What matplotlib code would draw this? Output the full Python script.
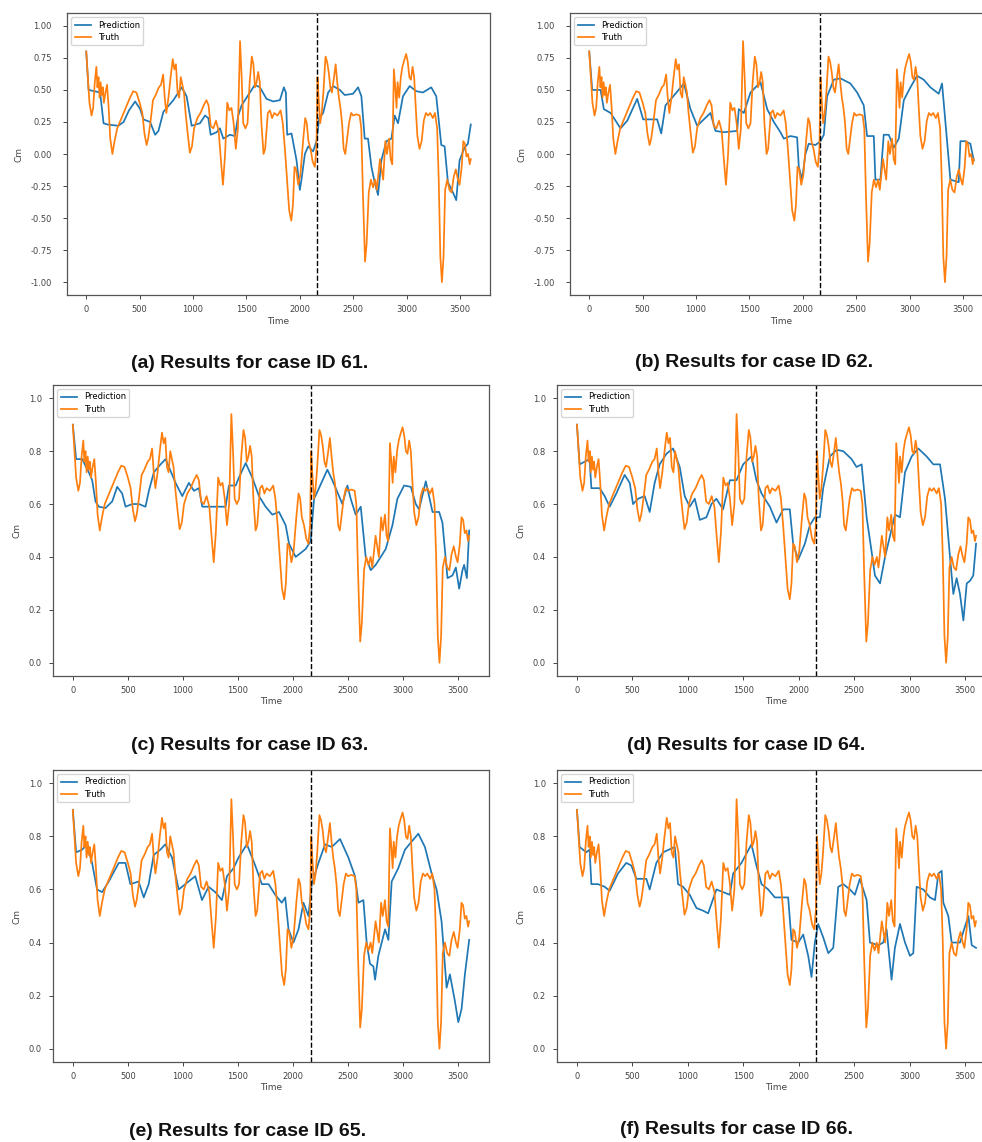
import matplotlib
matplotlib.use("Agg")
import matplotlib.pyplot as plt

# time knots for the ground truth curve
t_truth = [0, 15, 30, 50, 65, 80, 95, 105, 115, 125,
           135, 145, 155, 165, 180, 195, 210, 225, 245, 265,
           290, 320, 350, 380, 410, 440, 470, 500, 525, 545,
           565, 580, 600, 625, 650, 680, 700, 720, 735, 750,
           770, 790, 810, 825, 840, 855, 870, 885, 900, 915,
           930, 950, 970, 990, 1010, 1040, 1070, 1100, 1125, 1145,
           1165, 1190, 1215, 1240, 1260, 1280, 1300, 1320, 1340, 1360,
           1380, 1400, 1420, 1440, 1455, 1470, 1490, 1510, 1530, 1550,
           1565, 1580, 1595, 1610, 1625, 1640, 1660, 1675, 1700, 1720,
           1740, 1760, 1790, 1820, 1840, 1860, 1880, 1900, 1920, 1935,
           1950, 1965, 1985, 2005, 2030, 2050, 2065, 2080, 2100, 2120,
           2140, 2155, 2165, 2175, 2190, 2205, 2220, 2240, 2255, 2270,
           2285, 2300, 2320, 2335, 2350, 2365, 2380, 2395, 2410, 2425,
           2440, 2460, 2480, 2500, 2530, 2560, 2575, 2590, 2610, 2625,
           2645, 2665, 2685, 2705, 2720, 2735, 2750, 2765, 2780, 2800,
           2815, 2835, 2850, 2865, 2880, 2895, 2905, 2915, 2930, 2945,
           2960, 2980, 2995, 3010, 3025, 3040, 3055, 3070, 3085, 3100,
           3120, 3140, 3160, 3180, 3200, 3220, 3245, 3265, 3285, 3300,
           3315, 3330, 3345, 3360, 3380, 3400, 3420, 3440, 3460, 3480,
           3495, 3515, 3530, 3545, 3560, 3575, 3590, 3600]

# truth for cases 61, 62 (Cm in [-1, 1])
truth_ab = [0.80, 0.60, 0.40, 0.30, 0.36, 0.56, 0.68, 0.52, 0.60, 0.44,
            0.56, 0.46, 0.52, 0.40, 0.48, 0.54, 0.36, 0.12, 0.00, 0.10,
            0.20, 0.26, 0.32, 0.38, 0.44, 0.49, 0.48, 0.40, 0.32, 0.16,
            0.07, 0.12, 0.24, 0.42, 0.46, 0.52, 0.54, 0.62, 0.44, 0.32,
            0.44, 0.60, 0.74, 0.66, 0.70, 0.48, 0.44, 0.60, 0.54, 0.48,
            0.32, 0.16, 0.01, 0.06, 0.20, 0.28, 0.32, 0.38, 0.42, 0.38,
            0.22, 0.20, 0.26, 0.18, -0.04, -0.24, 0.00, 0.40, 0.34, 0.36,
            0.24, 0.04, 0.20, 0.88, 0.60, 0.24, 0.20, 0.24, 0.56, 0.76,
            0.70, 0.52, 0.56, 0.64, 0.56, 0.24, 0.00, 0.04, 0.32, 0.34,
            0.28, 0.32, 0.30, 0.34, 0.24, 0.04, -0.20, -0.44, -0.52, -0.40,
            -0.10, -0.12, -0.24, -0.16, 0.10, 0.28, 0.24, 0.10, 0.04, -0.06,
            -0.10, 0.04, 0.60, 0.44, 0.24, 0.32, 0.48, 0.76, 0.72, 0.64,
            0.52, 0.48, 0.60, 0.70, 0.56, 0.44, 0.36, 0.24, 0.04, 0.00,
            0.10, 0.24, 0.32, 0.30, 0.31, 0.30, 0.20, -0.30, -0.84, -0.70,
            -0.30, -0.20, -0.26, -0.20, -0.28, -0.16, -0.04, -0.12, -0.20, 0.10,
            0.00, 0.12, -0.04, -0.08, 0.66, 0.50, 0.36, 0.56, 0.44, 0.60,
            0.68, 0.74, 0.78, 0.72, 0.60, 0.58, 0.68, 0.60, 0.36, 0.14,
            0.04, 0.10, 0.26, 0.32, 0.30, 0.32, 0.28, 0.32, 0.20, -0.20,
            -0.80, -1.00, -0.80, -0.28, -0.20, -0.28, -0.30, -0.18, -0.12, -0.20,
            -0.24, -0.10, 0.10, 0.08, -0.02, 0.00, -0.08, -0.04]

# truth for cases 63-66 (Cm in [0, 1])
truth_cf = [0.90, 0.80, 0.70, 0.65, 0.68, 0.78, 0.84, 0.76, 0.80, 0.72,
            0.78, 0.73, 0.76, 0.70, 0.74, 0.77, 0.68, 0.56, 0.50, 0.55,
            0.60, 0.63, 0.66, 0.69, 0.72, 0.745, 0.74, 0.70, 0.66, 0.58,
            0.535, 0.56, 0.62, 0.71, 0.73, 0.76, 0.77, 0.81, 0.72, 0.66,
            0.72, 0.80, 0.87, 0.83, 0.85, 0.74, 0.72, 0.80, 0.77, 0.74,
            0.66, 0.58, 0.505, 0.53, 0.60, 0.64, 0.66, 0.69, 0.71, 0.69,
            0.61, 0.60, 0.63, 0.59, 0.48, 0.38, 0.50, 0.70, 0.67, 0.68,
            0.62, 0.52, 0.60, 0.94, 0.80, 0.62, 0.60, 0.62, 0.78, 0.88,
            0.85, 0.76, 0.78, 0.82, 0.78, 0.62, 0.50, 0.52, 0.66, 0.67,
            0.64, 0.66, 0.65, 0.67, 0.62, 0.52, 0.40, 0.28, 0.24, 0.30,
            0.45, 0.44, 0.38, 0.42, 0.55, 0.64, 0.62, 0.55, 0.52, 0.47,
            0.45, 0.52, 0.80, 0.72, 0.62, 0.66, 0.74, 0.88, 0.86, 0.82,
            0.76, 0.74, 0.80, 0.85, 0.78, 0.72, 0.68, 0.62, 0.52, 0.50,
            0.55, 0.62, 0.66, 0.65, 0.655, 0.65, 0.60, 0.35, 0.08, 0.15,
            0.35, 0.40, 0.37, 0.40, 0.36, 0.42, 0.48, 0.44, 0.40, 0.55,
            0.50, 0.56, 0.48, 0.46, 0.83, 0.75, 0.68, 0.78, 0.72, 0.80,
            0.84, 0.87, 0.89, 0.86, 0.80, 0.79, 0.84, 0.80, 0.68, 0.57,
            0.52, 0.55, 0.63, 0.66, 0.65, 0.66, 0.64, 0.66, 0.60, 0.40,
            0.10, 0.00, 0.10, 0.36, 0.40, 0.36, 0.35, 0.41, 0.44, 0.40,
            0.38, 0.45, 0.55, 0.54, 0.49, 0.50, 0.46, 0.48]

# predictions, one (time, value) pair of lists per case
t_pred_61 = [0, 22, 130, 162, 200, 300, 350, 400, 458, 505, 536, 598, 645, 676, 723, 816, 894, 940, 987, 1065,
             1112, 1143, 1165, 1221, 1252, 1283, 1345, 1392, 1423, 1455, 1517, 1579, 1626, 1688, 1750, 1813, 1850, 1869, 1881, 1922,
             1969, 2000, 2015, 2047, 2078, 2124, 2156, 2181, 2218, 2265, 2311, 2374, 2420, 2498, 2545, 2576, 2607, 2638, 2670, 2700,
             2732, 2763, 2810, 2857, 2888, 2919, 2965, 3028, 3090, 3152, 3230, 3277, 3324, 3355, 3386, 3433, 3464, 3495, 3542, 3573, 3600]
pred_61 = [0.80, 0.50, 0.48, 0.24, 0.23, 0.22, 0.25, 0.34, 0.41, 0.35, 0.27, 0.25, 0.15, 0.18, 0.33, 0.42, 0.52, 0.45, 0.22, 0.24,
           0.30, 0.28, 0.15, 0.17, 0.20, 0.12, 0.15, 0.14, 0.30, 0.38, 0.46, 0.54, 0.52, 0.43, 0.41, 0.42, 0.52, 0.48, 0.15, 0.16,
           -0.05, -0.28, -0.20, 0.00, 0.06, 0.02, 0.10, 0.28, 0.32, 0.48, 0.53, 0.50, 0.46, 0.47, 0.52, 0.45, 0.12, 0.12, -0.10, -0.22,
           -0.32, -0.05, 0.10, 0.12, 0.30, 0.24, 0.45, 0.53, 0.49, 0.48, 0.52, 0.45, 0.07, 0.06, -0.22, -0.30, -0.36, -0.05, 0.05, 0.08, 0.23]

t_pred_62 = [0, 28, 106, 137, 200, 293, 356, 449, 505, 636, 674, 714, 777, 886, 948, 1011, 1073, 1135, 1182, 1260,
             1385, 1400, 1447, 1510, 1603, 1666, 1728, 1790, 1822, 1884, 1946, 1962, 1993, 2024, 2055, 2118, 2165, 2196, 2227, 2290,
             2352, 2445, 2508, 2570, 2601, 2664, 2679, 2726, 2757, 2804, 2851, 2898, 2945, 3007, 3069, 3131, 3194, 3272, 3303, 3350,
             3381, 3459, 3475, 3521, 3568, 3600]
pred_62 = [0.80, 0.50, 0.50, 0.35, 0.32, 0.20, 0.26, 0.43, 0.27, 0.27, 0.16, 0.38, 0.44, 0.55, 0.35, 0.22, 0.27, 0.32, 0.18, 0.17,
           0.18, 0.35, 0.32, 0.48, 0.56, 0.35, 0.25, 0.17, 0.12, 0.14, 0.13, -0.10, -0.20, 0.00, 0.08, 0.07, 0.10, 0.15, 0.45, 0.58,
           0.59, 0.55, 0.48, 0.38, 0.14, 0.14, -0.20, -0.20, 0.15, 0.15, 0.05, 0.12, 0.42, 0.52, 0.61, 0.58, 0.52, 0.47, 0.55, 0.10,
           -0.20, -0.22, 0.10, 0.10, 0.08, -0.05]

t_pred_63 = [0, 30, 85, 109, 145, 176, 206, 236, 297, 358, 403, 448, 479, 539, 600, 660, 691, 736, 797, 842,
             873, 933, 994, 1054, 1100, 1145, 1176, 1267, 1388, 1418, 1479, 1509, 1570, 1630, 1691, 1751, 1812, 1873, 1933, 1964,
             2024, 2115, 2160, 2191, 2236, 2312, 2357, 2418, 2448, 2494, 2524, 2569, 2615, 2660, 2706, 2751, 2842, 2903, 2948, 3009,
             3070, 3115, 3145, 3206, 3267, 3327, 3357, 3403, 3448, 3479, 3509, 3539, 3554, 3579, 3600]
pred_63 = [0.90, 0.77, 0.77, 0.75, 0.72, 0.69, 0.61, 0.59, 0.585, 0.61, 0.665, 0.64, 0.59, 0.60, 0.60, 0.59, 0.65, 0.72, 0.75, 0.77,
           0.74, 0.68, 0.63, 0.68, 0.65, 0.66, 0.59, 0.59, 0.59, 0.67, 0.67, 0.70, 0.755, 0.70, 0.63, 0.59, 0.56, 0.57, 0.52, 0.45,
           0.40, 0.43, 0.46, 0.62, 0.66, 0.73, 0.69, 0.63, 0.60, 0.67, 0.62, 0.56, 0.59, 0.40, 0.35, 0.37, 0.43, 0.52, 0.62, 0.67,
           0.665, 0.60, 0.58, 0.686, 0.57, 0.57, 0.53, 0.32, 0.33, 0.36, 0.28, 0.35, 0.37, 0.32, 0.50]

t_pred_64 = [0, 24, 69, 114, 130, 205, 250, 295, 355, 430, 476, 506, 551, 611, 656, 701, 746, 807, 867, 927,
             972, 1017, 1063, 1108, 1168, 1213, 1258, 1318, 1379, 1439, 1499, 1574, 1619, 1665, 1740, 1800, 1860, 1920, 1950, 1996,
             2056, 2101, 2146, 2191, 2221, 2282, 2342, 2402, 2477, 2522, 2568, 2613, 2658, 2688, 2734, 2779, 2824, 2869, 2914, 2959,
             3019, 3079, 3154, 3215, 3275, 3320, 3365, 3395, 3425, 3455, 3486, 3516, 3546, 3575, 3600]
pred_64 = [0.90, 0.75, 0.76, 0.77, 0.66, 0.66, 0.63, 0.59, 0.64, 0.71, 0.68, 0.60, 0.62, 0.63, 0.57, 0.68, 0.75, 0.79, 0.81, 0.74,
           0.63, 0.59, 0.62, 0.54, 0.55, 0.60, 0.62, 0.58, 0.69, 0.69, 0.75, 0.78, 0.69, 0.64, 0.59, 0.53, 0.58, 0.58, 0.45, 0.39,
           0.45, 0.52, 0.55, 0.55, 0.66, 0.78, 0.805, 0.80, 0.77, 0.74, 0.75, 0.55, 0.42, 0.33, 0.30, 0.40, 0.48, 0.56, 0.55, 0.72,
           0.78, 0.81, 0.78, 0.75, 0.75, 0.62, 0.40, 0.26, 0.32, 0.26, 0.16, 0.30, 0.31, 0.33, 0.45]

t_pred_65 = [0, 30, 85, 130, 175, 220, 266, 326, 417, 478, 523, 598, 644, 689, 735, 795, 840, 901, 961, 1022,
             1112, 1173, 1233, 1294, 1354, 1400, 1460, 1505, 1581, 1657, 1717, 1778, 1838, 1898, 1929, 1959, 2004, 2050, 2095, 2140,
             2170, 2231, 2291, 2352, 2427, 2503, 2563, 2594, 2639, 2669, 2699, 2730, 2745, 2775, 2836, 2866, 2896, 2956, 3017, 3077,
             3138, 3198, 3259, 3304, 3349, 3395, 3425, 3470, 3501, 3531, 3561, 3600]
pred_65 = [0.90, 0.74, 0.75, 0.77, 0.70, 0.60, 0.59, 0.63, 0.70, 0.70, 0.62, 0.63, 0.57, 0.62, 0.73, 0.75, 0.77, 0.72, 0.60, 0.62,
           0.65, 0.56, 0.61, 0.59, 0.56, 0.65, 0.68, 0.72, 0.77, 0.69, 0.62, 0.62, 0.58, 0.55, 0.57, 0.45, 0.40, 0.45, 0.55, 0.50,
           0.62, 0.70, 0.77, 0.76, 0.79, 0.72, 0.65, 0.55, 0.56, 0.40, 0.32, 0.31, 0.26, 0.35, 0.45, 0.41, 0.63, 0.68, 0.75, 0.78,
           0.81, 0.76, 0.66, 0.60, 0.48, 0.23, 0.28, 0.18, 0.10, 0.15, 0.28, 0.41]

t_pred_66 = [0, 24, 84, 114, 130, 190, 250, 295, 370, 445, 491, 536, 626, 656, 716, 777, 882, 912, 957, 1017,
             1078, 1138, 1183, 1258, 1318, 1379, 1409, 1484, 1574, 1619, 1665, 1725, 1785, 1845, 1905, 1935, 1996, 2041, 2086, 2116,
             2146, 2176, 2221, 2267, 2312, 2357, 2402, 2462, 2507, 2552, 2613, 2643, 2718, 2763, 2793, 2838, 2868, 2914, 2959, 3004,
             3034, 3064, 3124, 3184, 3230, 3260, 3290, 3305, 3350, 3380, 3455, 3500, 3531, 3561, 3600]
pred_66 = [0.90, 0.76, 0.74, 0.75, 0.62, 0.62, 0.61, 0.595, 0.66, 0.70, 0.69, 0.64, 0.64, 0.60, 0.70, 0.74, 0.76, 0.62, 0.61, 0.58,
           0.53, 0.52, 0.51, 0.60, 0.59, 0.58, 0.66, 0.70, 0.77, 0.69, 0.62, 0.60, 0.57, 0.57, 0.57, 0.41, 0.40, 0.43, 0.35, 0.27,
           0.40, 0.47, 0.42, 0.36, 0.38, 0.61, 0.62, 0.60, 0.58, 0.64, 0.56, 0.40, 0.39, 0.40, 0.45, 0.26, 0.38, 0.47, 0.40, 0.35,
           0.36, 0.61, 0.60, 0.57, 0.56, 0.66, 0.67, 0.55, 0.50, 0.40, 0.40, 0.46, 0.50, 0.39, 0.38]

SPLIT_TIME = 2160  # train / test boundary

cases = [
    {'id': 61, 'tag': 'a', 't_pred': t_pred_61, 'pred': pred_61, 'truth': truth_ab},
    {'id': 62, 'tag': 'b', 't_pred': t_pred_62, 'pred': pred_62, 'truth': truth_ab},
    {'id': 63, 'tag': 'c', 't_pred': t_pred_63, 'pred': pred_63, 'truth': truth_cf},
    {'id': 64, 'tag': 'd', 't_pred': t_pred_64, 'pred': pred_64, 'truth': truth_cf},
    {'id': 65, 'tag': 'e', 't_pred': t_pred_65, 'pred': pred_65, 'truth': truth_cf},
    {'id': 66, 'tag': 'f', 't_pred': t_pred_66, 'pred': pred_66, 'truth': truth_cf},
]

W, H = 982, 1142
# axes boxes in pixels: left, top, width, height
boxes = [(67, 13, 423, 282), (570, 13, 423, 282),
         (53, 385, 436, 291), (557, 385, 439, 291),
         (53, 770, 436, 292), (557, 770, 439, 292)]
# caption centres in pixels
caption_pos = [(250, 364), (754, 363), (250, 746), (746, 746), (248, 1132), (736, 1130)]

fig = plt.figure(figsize=(W / 100, H / 100), dpi=100)

for i, case in enumerate(cases):
    l, t, w, h = boxes[i]
    ax = fig.add_axes([l / W, 1 - (t + h) / H, w / W, h / H])
    ax.plot(case['t_pred'], case['pred'], color='#1f77b4', lw=1.25, label='Prediction')
    ax.plot(t_truth, case['truth'], color='#ff7f0e', lw=1.25, label='Truth')
    ax.axvline(SPLIT_TIME, color='black', ls='--', lw=1.0)

    ax.set_xlim(-180, 3780)
    ax.set_xticks(range(0, 3501, 500))
    if i < 2:
        ax.set_ylim(-1.1, 1.1)
        ax.set_yticks([-1.0, -0.75, -0.5, -0.25, 0.0, 0.25, 0.5, 0.75, 1.0])
        ax.set_yticklabels(['%.2f' % v for v in ax.get_yticks()])
        ypad = 8
    else:
        ax.set_ylim(-0.05, 1.05)
        ax.set_yticks([0.0, 0.2, 0.4, 0.6, 0.8, 1.0])
        ax.set_yticklabels(['%.1f' % v for v in ax.get_yticks()])
        ypad = 5

    ax.tick_params(axis='both', labelsize=6, colors='#444444', length=3, width=0.7)
    ax.tick_params(axis='x', pad=4)
    ax.tick_params(axis='y', pad=ypad)
    for s in ax.spines.values():
        s.set_color('#555555')
        s.set_linewidth(0.9)
    ax.set_xlabel('Time', fontsize=6.5, color='#444444', labelpad=2)
    ax.set_ylabel('Cm', fontsize=6.5, color='#444444', labelpad=5)
    ax.legend(loc='upper left', fontsize=6, handlelength=2.0, borderpad=0.4, labelspacing=0.4)

    cx, cy = caption_pos[i]
    fig.text(cx / W, 1 - cy / H, '(%s) Results for case ID %d.' % (case['tag'], case['id']),
             ha='center', va='center', fontsize=14, fontweight='bold',
             family=['Liberation Sans', 'DejaVu Sans'], color='#111111')

fig.savefig('out.png', dpi=100)
